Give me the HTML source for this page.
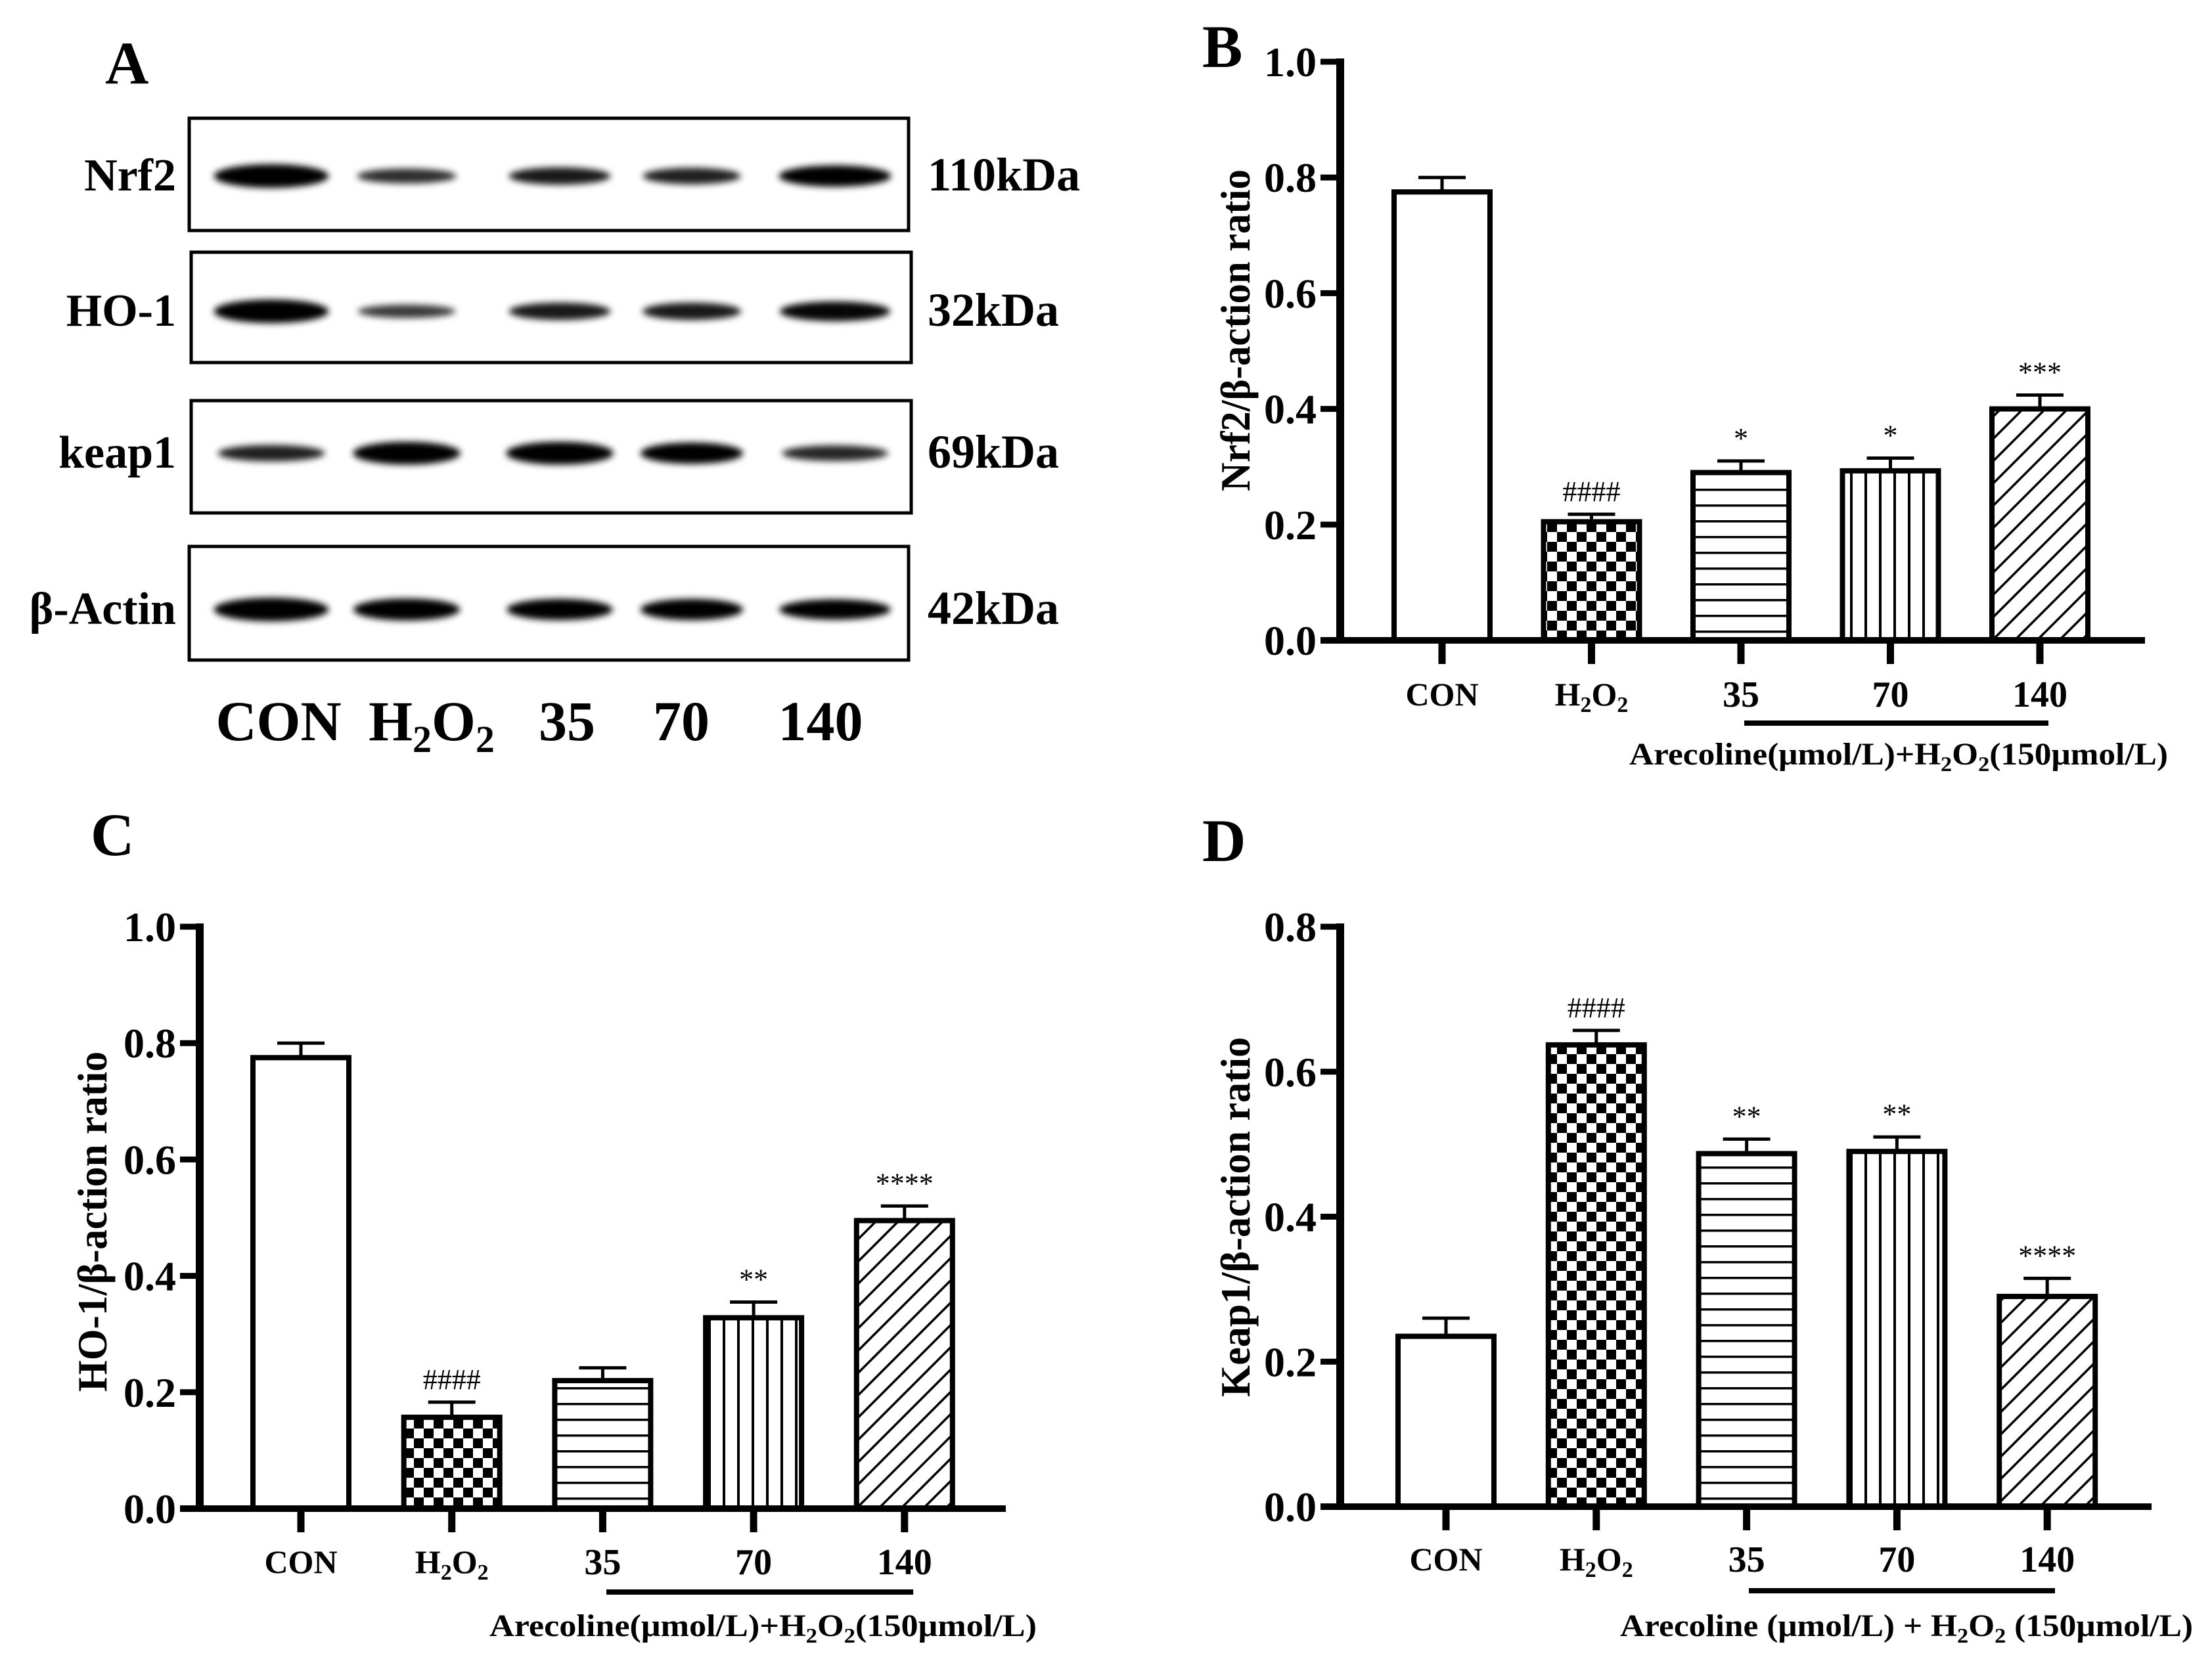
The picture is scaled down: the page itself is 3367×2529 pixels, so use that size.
<!DOCTYPE html>
<html><head><meta charset="utf-8"><style>
html,body{margin:0;padding:0;background:#fff;overflow:hidden;}
svg{display:block;font-family:"Liberation Serif",serif;font-weight:bold;}
</style></head><body>
<svg id="fig" width="3367" height="2529" viewBox="0 0 3367 2529" xmlns="http://www.w3.org/2000/svg">
<defs>
<filter id="blur" x="-20%" y="-150%" width="140%" height="400%"><feGaussianBlur stdDeviation="5"/></filter>
<pattern id="checker" width="30" height="30" patternUnits="userSpaceOnUse"><rect width="30" height="30" fill="#fff"/><rect width="15" height="15" fill="#000"/><rect x="15" y="15" width="15" height="15" fill="#000"/></pattern>
<pattern id="hlines" width="10" height="24" patternUnits="userSpaceOnUse"><rect width="10" height="24" fill="#fff"/><rect y="0" width="10" height="3.5" fill="#000"/></pattern>
<pattern id="vlines" width="22" height="10" patternUnits="userSpaceOnUse"><rect width="22" height="10" fill="#fff"/><rect x="0" width="4" height="10" fill="#000"/></pattern>
<pattern id="diag" width="24" height="24" patternUnits="userSpaceOnUse" patternTransform="rotate(45)"><rect width="24" height="24" fill="#fff"/><rect x="0" width="3.5" height="24" fill="#000"/></pattern>
</defs>
<g id="panelA">
<text x="160" y="127" font-size="92">A</text>
</g>
<g id="panelB"></g>
<g id="panelC"></g>
<g id="panelD"></g>
</svg>
<script>
const NS="http://www.w3.org/2000/svg";
const categories=["CON","H2O2","35","70","140"];
const nrf2Values=[0.775,0.205,0.29,0.293,0.40];
const nrf2Errors=[0.025,0.013,0.02,0.022,0.024];
const nrf2Marks=["","####","*","*","***"];
const ho1Values=[0.775,0.157,0.22,0.328,0.495];
const ho1Errors=[0.025,0.026,0.022,0.027,0.025];
const ho1Marks=["","####","","**","****"];
const keap1Values=[0.235,0.637,0.487,0.49,0.29];
const keap1Errors=[0.025,0.02,0.02,0.02,0.025];
const keap1Marks=["","####","**","**","****"];
const ticks10=["0.0","0.2","0.4","0.6","0.8","1.0"];
const ticks08=["0.0","0.2","0.4","0.6","0.8"];
const blotRows=["Nrf2","HO-1","keap1","β-Actin"];
const blotKda=["110kDa","32kDa","69kDa","42kDa"];
const blotIntensity=[[1.0,0.45,0.6,0.55,0.85],[1.0,0.35,0.6,0.6,0.75],[0.55,0.95,0.95,0.85,0.5],[1.0,0.9,0.85,0.85,0.8]];
const fills=["#fff","url(#checker)","url(#hlines)","url(#vlines)","url(#diag)"];

function el(tag,attrs,parent){const e=document.createElementNS(NS,tag);for(const k in attrs)e.setAttribute(k,attrs[k]);parent.appendChild(e);return e;}

(function(){
  const g=document.getElementById('panelA');
  const boxes=[[288,180,1095,171],[291,384,1096,168],[291,610,1096,171],[288,832,1095,173]];
  const lanes=[413,619,852,1053,1271];
  const lw=[175,165,165,160,175];
  const bandY=[268,474,690,928];
  blotRows.forEach((name,r)=>{
    const b=boxes[r];
    const box=el('rect',{x:b[0],y:b[1],width:b[2],height:b[3],fill:'#fff',stroke:'#000','stroke-width':5},g);
    
    
    lanes.forEach((cx,i)=>{
      const inten=blotIntensity[r][i];
      const band=el('ellipse',{cx:cx,cy:bandY[r],rx:lw[i]/2*(0.85+0.15*inten),ry:6+12*inten,fill:'#000','fill-opacity':Math.min(1,0.6+0.5*inten),filter:'url(#blur)'},g);
      
      
    });
    const t=el('text',{x:268,y:bandY[r]+22,'font-size':70,'text-anchor':'end'},g);
    t.textContent=name;
    
    
    const k=el('text',{x:1412,y:bandY[r]+22,'font-size':72},g);
    k.textContent=blotKda[r];
    
    
  });
  const lx=[424,657,863,1037,1249];
  categories.forEach((c,i)=>{
    const t=el('text',{x:lx[i],y:1127,'font-size':86,'text-anchor':'middle'},g);
    if(c==="H2O2"){t.innerHTML='H<tspan font-size="58" dy="18">2</tspan><tspan dy="-18">O</tspan><tspan font-size="58" dy="18">2</tspan>';}
    else t.textContent=c;
    
    
  });
})();

function drawChart(g,o){
  const x0=o.x0,y0=o.y0,ytop=o.ytop,ymax=o.ymax;
  const Y=v=>y0-(v/ymax)*(y0-ytop);
  const X=i=>o.c0+i*o.step;
  const bw=146;
  const lbl=el('text',{x:o.lx,y:o.ly,'font-size':92},g);
  lbl.textContent=o.letter;
  
  
  o.vals.forEach((v,i)=>{
    const cx=X(i);
    const e=o.errs[i];
    const eb=el('line',{x1:cx,x2:cx,y1:Y(v),y2:Y(v+e),stroke:'#000','stroke-width':5},g);
    
    
    const cap=el('line',{x1:cx-36,x2:cx+36,y1:Y(v+e),y2:Y(v+e),stroke:'#000','stroke-width':5},g);
    
    
    const r=el('rect',{x:cx-bw/2,y:Y(v),width:bw,height:y0-Y(v),fill:fills[i],stroke:'#000','stroke-width':8},g);
    
    
    if(o.marks[i]){
      const m=el('text',{x:cx,y:Y(v+e)-20,'font-size':44,'font-weight':'normal','text-anchor':'middle'},g);
      m.textContent=o.marks[i];
      
      
    }
    const tk=el('line',{x1:cx,x2:cx,y1:y0,y2:y0+36,stroke:'#000','stroke-width':11},g);
    
    
    const t=el('text',{x:cx,y:o.tly+(i<2?17:19),'font-size':i<2?50:56,'text-anchor':'middle'},g);
    if(categories[i]==="H2O2"){t.innerHTML='H<tspan font-size="34" dy="10">2</tspan><tspan dy="-10">O</tspan><tspan font-size="34" dy="10">2</tspan>';}
    else t.textContent=categories[i];
    
    
  });
  const ya=el('line',{x1:x0,x2:x0,y1:ytop-5,y2:y0+5,stroke:'#000','stroke-width':12},g);
  
  
  const xa=el('line',{x1:x0-30,x2:o.xend,y1:y0,y2:y0,stroke:'#000','stroke-width':10},g);
  
  
  o.ticks.forEach(s=>{
    const v=parseFloat(s);
    const tk=el('line',{x1:x0-30,x2:x0,y1:Y(v),y2:Y(v),stroke:'#000','stroke-width':9},g);
    
    
    const t=el('text',{x:x0-36,y:Y(v)+22,'font-size':64,'text-anchor':'end'},g);
    t.textContent=s;
    
    
  });
  const yt=el('text',{x:0,y:0,'font-size':64,'text-anchor':'middle',textLength:o.tl,lengthAdjust:'spacingAndGlyphs',transform:`translate(${o.tx},${o.ty}) rotate(-90)`},g);
  yt.textContent=o.ytitle;
  
  
  const br=el('line',{x1:o.bx1,x2:o.bx2,y1:o.by,y2:o.by,stroke:'#000','stroke-width':8},g);
  
  
  const cap=el('text',{x:o.capx-o.capw,y:o.capy+17,'font-size':48,textLength:o.capw,lengthAdjust:'spacingAndGlyphs'},g);
  cap.innerHTML=o.caption;
  
  
}
const sub='<tspan font-size="32" dy="10">2</tspan>';
drawChart(document.getElementById('panelB'),{letter:'B',lx:1830,ly:102,x0:2040,y0:975,ytop:94,ymax:1.0,c0:2195,step:227.5,xend:3265,vals:nrf2Values,errs:nrf2Errors,marks:nrf2Marks,ticks:ticks10,ytitle:'Nrf2/β-action ratio',tl:490,tx:1902,ty:503,tly:1057,by:1101,bx1:2655,bx2:3118,capx:3300,capw:820,capy:1147,caption:`Arecoline(μmol/L)+H${sub}<tspan dy="-10">O</tspan>${sub}<tspan dy="-10">(150μmol/L)</tspan>`});
drawChart(document.getElementById('panelC'),{letter:'C',lx:138,ly:1302,x0:304,y0:2297,ytop:1411,ymax:1.0,c0:458,step:229.7,xend:1531,vals:ho1Values,errs:ho1Errors,marks:ho1Marks,ticks:ticks10,ytitle:'HO-1/β-action ratio',tl:518,tx:162,ty:1860,tly:2378,by:2424,bx1:923,bx2:1390,capx:1578,capw:833,capy:2474,caption:`Arecoline(μmol/L)+H${sub}<tspan dy="-10">O</tspan>${sub}<tspan dy="-10">(150μmol/L)</tspan>`});
drawChart(document.getElementById('panelD'),{letter:'D',lx:1830,ly:1311,x0:2040,y0:2294,ytop:1411,ymax:0.8,c0:2201,step:228.8,xend:3275,vals:keap1Values,errs:keap1Errors,marks:keap1Marks,ticks:ticks08,ytitle:'Keap1/β-action ratio',tl:548,tx:1902,ty:1853,tly:2374,by:2422,bx1:2662,bx2:3128,capx:3338,capw:872,capy:2474,caption:`Arecoline (μmol/L) + H${sub}<tspan dy="-10">O</tspan>${sub}<tspan dy="-10"> (150μmol/L)</tspan>`});
</script>
</body></html>
